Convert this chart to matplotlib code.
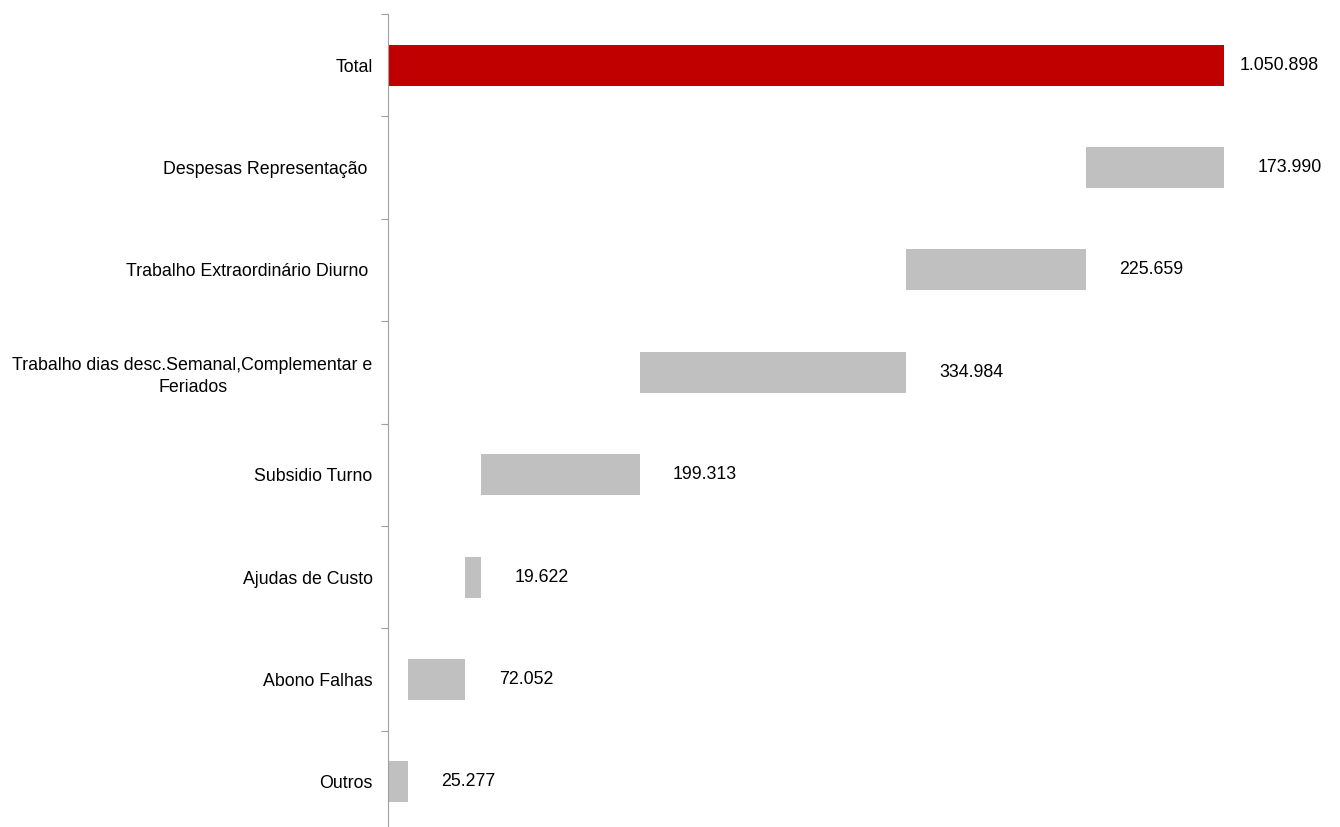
import matplotlib
matplotlib.use("Agg")
import matplotlib.pyplot as plt

plt.rcParams['font.family'] = ['Liberation Sans', 'DejaVu Sans']

# Components of the waterfall, bottom to top, then the total
categories = ["Outros", "Abono Falhas", "Ajudas de Custo", "Subsidio Turno",
              "Trabalho dias desc.Semanal,Complementar e\nFeriados",
              "Trabalho Extraordinário Diurno ", "Despesas Representação "]
values = [25277, 72052, 19622, 199313, 334984, 225659, 173990]
total_label = "Total"
total_value = 1050898
value_labels = ["25.277", "72.052", "19.622", "199.313", "334.984",
                "225.659", "173.990"]
total_text = "1.050.898"

fs = 12.8

fig = plt.figure(figsize=(13.4, 8.27), dpi=100)
ax = fig.add_axes([388 / 1340, -6 / 827, 952 / 1340, 819 / 827])

gray = "#c0c0c0"
red = "#c00000"
bar_h = 0.40

# Rows: Total on top (row 0), components follow in reverse order
names = [total_label] + categories[::-1]
n = len(names)

ax.barh(0, total_value, height=bar_h, color=red, left=0)
ax.annotate(total_text, (total_value, 0), xytext=(11, 0), textcoords="offset points",
            ha="left", va="center", fontsize=fs)

cum = 0
starts = []
for v in values:
    starts.append(cum)
    cum += v
for i, (v, s, lab) in enumerate(zip(values, starts, value_labels)):
    row = n - 1 - i
    ax.barh(row, v, left=s, height=bar_h, color=gray)
    ax.annotate(lab, (s + v, row), xytext=(24, 0), textcoords="offset points",
                ha="left", va="center", fontsize=fs)

ax.set_ylim(n - 0.5, -0.5)
ax.set_xlim(0, 1196700)

# Category boundaries as tick marks, names centred on each row
ax.set_yticks([i - 0.5 for i in range(n + 1)])
ax.set_yticklabels([])
ax.tick_params(axis="y", which="major", length=5, color="#a0a0a0", direction="out")
ax.set_yticks(range(n), minor=True)
ax.set_yticklabels(names, minor=True, fontsize=fs, multialignment="center",
                   linespacing=1.35)
ax.tick_params(axis="y", which="minor", length=0, pad=11)

ax.set_xticks([])
for side in ["top", "right", "bottom"]:
    ax.spines[side].set_visible(False)
ax.spines["left"].set_color("#a0a0a0")
ax.set_facecolor("none")

fig.savefig("out.png", dpi=100)
